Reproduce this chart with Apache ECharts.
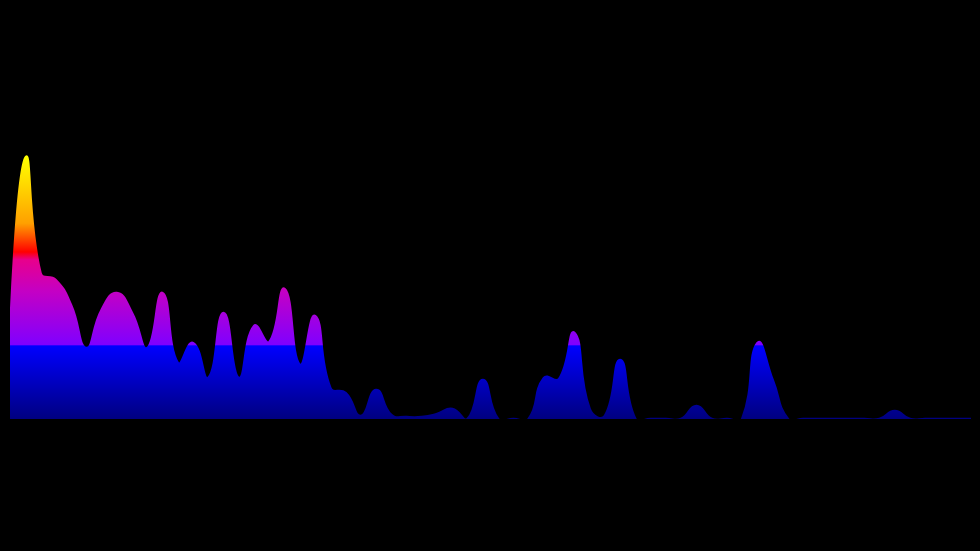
<!DOCTYPE html>
<html>
<head>
<meta charset="utf-8">
<script src="https://cdn.jsdelivr.net/npm/echarts@6/dist/echarts.min.js"></script>
<style>
  html, body { margin: 0; padding: 0; background: #000; }
  #main { width: 980px; height: 551px; }
</style>
</head>
<body>
<div id="main"></div>
<script>
// 64 spectrum bins
const bins = Array.from({ length: 64 }, (_, i) => String(i + 1));
const amplitudes = [
  81, 261, 146, 139, 114, 71, 109, 126, 106, 71,
  126, 56, 76, 41, 106, 41, 93, 77, 130, 54,
  103, 31, 26, 3, 29, 4, 2, 2, 5, 10,
  0, 39, 0, 0, 0, 41, 40, 86, 10, 3,
  59, 0, 0, 0, 0, 13, 0, 0, 0, 76,
  39, 0, 0, 0, 0, 0, 0, 0, 8, 0,
  0, 0, 0, 0
];

const gradientStops = [
  { offset: 0, color: '#ffff00' },
  { offset: 0.25, color: '#ffa000' },
  { offset: 0.36, color: '#ff0000' },
  { offset: 0.39, color: '#e8008c' },
  { offset: 0.51, color: '#c400c4' },
  { offset: 0.715, color: '#8000ff' },
  { offset: 0.72, color: '#0000ff' },
  { offset: 1, color: '#000080' }
];

const tension = 0.5;

function renderSpectrum(params, api) {
  const pts = amplitudes.map((v, i) => api.coord([i, v]));
  const base = api.coord([0, 0])[1];
  const top = api.coord([0, Math.max.apply(null, amplitudes)])[1];
  const n = pts.length;
  const cps = pts.map((p, i) => {
    if (i === 0 || i === n - 1) return [p, p];
    const prev = pts[i - 1], next = pts[i + 1];
    const d01 = Math.hypot(p[0] - prev[0], p[1] - prev[1]);
    const d12 = Math.hypot(next[0] - p[0], next[1] - p[1]);
    const s = d01 + d12 || 1;
    const fa = tension * d01 / s, fb = tension * d12 / s;
    const vx = next[0] - prev[0], vy = next[1] - prev[1];
    return [[p[0] - fa * vx, p[1] - fa * vy], [p[0] + fb * vx, p[1] + fb * vy]];
  });
  let curve = '';
  for (let i = 1; i < n; i++) {
    const c1 = cps[i - 1][1], c2 = cps[i][0], p = pts[i];
    curve += ' C ' + c1[0] + ' ' + c1[1] + ' ' + c2[0] + ' ' + c2[1] + ' ' + p[0] + ' ' + p[1];
  }
  const linePath = 'M ' + pts[0][0] + ' ' + pts[0][1] + curve;
  const areaPath = 'M ' + pts[0][0] + ' ' + base + ' L ' + pts[0][0] + ' ' + pts[0][1] + curve +
    ' L ' + pts[n - 1][0] + ' ' + base + ' Z';
  const grad = () => new echarts.graphic.LinearGradient(0, top, 0, base, gradientStops, true);
  return {
    type: 'group',
    children: [
      { type: 'path', shape: { pathData: areaPath }, style: { fill: grad(), stroke: null } },
      { type: 'path', shape: { pathData: linePath }, style: { fill: null, stroke: grad(), lineWidth: 2.5 } }
    ]
  };
}

const chart = echarts.init(document.getElementById('main'), null, { renderer: 'canvas' });

chart.setOption({
  backgroundColor: '#000000',
  animation: false,
  grid: { left: 10, right: 9, top: 119, bottom: 132 },
  xAxis: {
    type: 'category',
    data: bins,
    boundaryGap: false,
    show: false
  },
  yAxis: {
    type: 'value',
    min: 0,
    max: 300,
    show: false
  },
  series: [{
    type: 'custom',
    coordinateSystem: 'cartesian2d',
    clip: true,
    renderItem: renderSpectrum,
    data: [[0, 0]]
  }]
});
</script>
</body>
</html>
